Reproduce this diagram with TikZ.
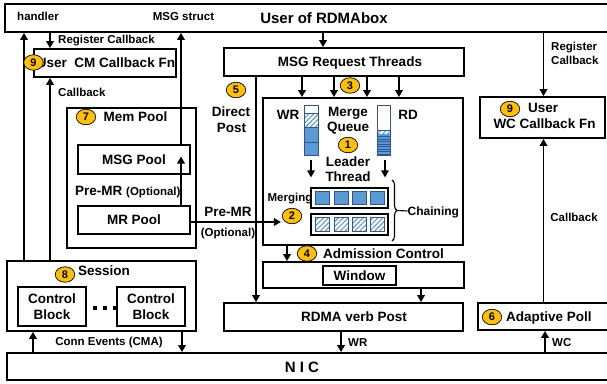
\documentclass[tikz,border=0pt]{standalone}
\usepackage{fontspec}
\setmainfont{Liberation Sans}
\usetikzlibrary{arrows.meta,shapes.geometric,patterns.meta,decorations.pathreplacing,calc}
\definecolor{numfill}{HTML}{FFC000}
\definecolor{qblue}{HTML}{5B9BD5}
\definecolor{qedge}{HTML}{2F5597}
\definecolor{hatch}{HTML}{5B9BD5}
\begin{document}
\begin{tikzpicture}[x=1pt,y=-1pt,
  box/.style={draw, line width=1.8pt, rectangle, inner sep=0pt},
  arr/.style={line width=1.8pt, -{Triangle[length=7pt,width=7.5pt]}},
  lab/.style={font=\bfseries\fontsize{11.5}{13}\selectfont, inner sep=0pt, text height=8.2pt, text depth=0pt},
  big/.style={font=\bfseries\fontsize{13.5}{16}\selectfont, inner sep=0pt, text height=9.7pt, text depth=0pt},
  huge/.style={font=\bfseries\fontsize{15}{17}\selectfont, inner sep=0pt, text height=10.8pt, text depth=0pt},
  num/.style={ellipse, draw=black, line width=0.7pt, fill=numfill, inner sep=0pt,
    minimum width=19.5pt, minimum height=15.5pt, font=\bfseries\fontsize{11}{11}\selectfont},
  hatched/.style={pattern={Lines[angle=45,distance=3.5pt,line width=1.1pt]}, pattern color=hatch},
  qbox/.style={draw=qedge, line width=0.8pt, rectangle, inner sep=0pt}
]
\useasboundingbox (0,0) rectangle (607,383);
\clip (0,0) rectangle (607,383);

% x positions of vertical connectors
\coordinate (xh) at (24,0);
\coordinate (xcb) at (50,0);
\coordinate (xms) at (181,0);
\coordinate (xmr) at (323,0);
\coordinate (xdp) at (256,0);
\coordinate (xa1) at (302,0);
\coordinate (xa2) at (334,0);
\coordinate (xa3) at (367,0);
\coordinate (xa4) at (399,0);
\coordinate (xac) at (287,0);
\coordinate (xwin) at (421,0);
\coordinate (xwr) at (341,0);
\coordinate (xwc) at (545,0);
\coordinate (xw) at (543.5,0);
\coordinate (xce1) at (33,0);
\coordinate (xce2) at (182,0);

% boxes
\node[box, minimum width=615pt, minimum height=28pt] (top) at (312.5,18) {};
\node[box, minimum width=142pt, minimum height=28pt] (cmcb) at (105,63) {};
\node[box, minimum width=129pt, minimum height=140pt] (mem) at (131.5,178) {};
\node[box, minimum width=112pt, minimum height=29pt, big] (msgpool) at (134,159.5) {MSG Pool};
\node[box, minimum width=112pt, minimum height=28pt, big] (mrpool) at (134,220) {MR Pool};
\node[box, minimum width=189pt, minimum height=70pt] (session) at (101.5,296) {};
\node[box, minimum width=68pt, minimum height=39pt, font=\bfseries\fontsize{13.5}{16}\selectfont, align=center] (cb1) at (52,306.5) {Control\\Block};
\node[box, minimum width=68pt, minimum height=39pt, font=\bfseries\fontsize{13.5}{16}\selectfont, align=center] (cb2) at (151,306.5) {Control\\Block};
\node[box, minimum width=240pt, minimum height=28pt] (msgreq) at (344,62) {};
\node[box, minimum width=200pt, minimum height=147pt] (mq) at (363,171.5) {};
\node[box, minimum width=201pt, minimum height=26pt] (adm) at (363.5,275) {};
\node[box, line width=1.3pt, minimum width=73pt, minimum height=19pt, big] (win) at (359.5,275.5) {Window};
\node[box, minimum width=239pt, minimum height=28pt] (rdma) at (343.5,317) {};
\node[box, minimum width=613pt, minimum height=27pt] (nic) at (313.5,366.5) {};
\node[box, minimum width=125pt, minimum height=41pt] (wccb) at (542.5,117.5) {};
\node[box, minimum width=142pt, minimum height=27pt] (apoll) at (549,316.5) {};

% dots between control blocks
\fill (93,306) rectangle (97,310);
\fill (103,306) rectangle (107,310);
\fill (113,306) rectangle (117,310);

% queues
\fill[qblue] (304,127) rectangle (318,155);
\fill[hatched] (304,113) rectangle (318,127);
\draw[qedge, line width=0.8pt] (304,113)--(318,113) (304,127)--(318,127) (304,142)--(318,142);
\node[qbox, minimum width=14pt, minimum height=50pt] (wrq) at (311,130) {};
\fill[qblue] (377,134) rectangle (390,155);
\fill[hatched] (377,130) rectangle (390,134);
\draw[qedge, line width=0.7pt] (377,130)--(390,130);
\foreach \yy in {136.5,139,...,154} \draw[qedge, line width=0.7pt] (377,\yy)--(390,\yy);
\node[qbox, minimum width=13pt, minimum height=50pt] (rdq) at (383.5,130) {};

% chained rows
\node[box, line width=1.4pt, minimum width=77pt, minimum height=20pt] (row1) at (349.5,198) {};
\node[box, line width=1.4pt, minimum width=77pt, minimum height=21pt] (row2) at (349.5,224.5) {};
\foreach \xx in {322,341,359.5,377.5} {
  \draw[qedge, line width=0.6pt, fill=qblue] (\xx-7,191.3) rectangle (\xx+7,204.7);
  \draw[qedge, line width=0.6pt, hatched] (\xx-7,217.5) rectangle (\xx+7,231.5);
}
\draw[line width=1.1pt, decorate, decoration={brace, amplitude=5pt}] (392,180) -- (392,241);
\coordinate (brtip) at (397.5,210.5);
\node[lab, font=\bfseries\fontsize{12}{13}\selectfont, anchor=west] (chain) at (407.5,211) {Chaining};
\draw[line width=1.1pt] (brtip) -- (chain.west);

% texts
\node[lab] (thandler) at (38,16) {handler};
\node[lab] (tmsgs) at (183.5,16) {MSG struct};
\node[huge] (tuser) at (324,18) {User of RDMAbox};
\node[lab, anchor=west] (treg) at (58,39) {Register Callback};
\node[lab, anchor=west] (tcb) at (58,92) {Callback};
\node[big] (tcm) at (106,63) {User\ \ CM Callback Fn};
\node[big] (tmem) at (135.5,117) {Mem Pool};
\node[anchor=west, inner sep=0pt, text height=9.7pt, text depth=0pt] (tpre) at (75,191) {\bfseries\fontsize{13.5}{16}\selectfont Pre-MR {\fontsize{11.5}{13}\selectfont(Optional)}};
\node[big] (tpre2) at (228,212) {Pre-MR};
\node[lab] (topt2) at (228,232) {(Optional)};
\node[big] (tdirect) at (231,112) {Direct};
\node[big] (tpost) at (231.5,128) {Post};
\node[big] (tmsgreq) at (350,62) {MSG Request Threads};
\node[big] (twr) at (288,115) {WR};
\node[big] (trd) at (408,115) {RD};
\node[big] (tmerge) at (348,112) {Merge};
\node[big] (tqueue) at (348,127) {Queue};
\node[big] (tleader) at (348,162) {Leader};
\node[big] (tthread) at (348,177) {Thread};
\node[lab] (tmerging) at (290,197) {Merging};
\node[big, anchor=west] (tadm) at (323,253.5) {Admission Control};
\node[big] (trdma) at (354,317) {RDMA verb Post};
\node[huge] (tnic) at (302,367) {N I C};
\node[lab, anchor=west] (twr2) at (348,342) {WR};
\node[lab, anchor=west] (twc) at (552,342) {WC};
\node[big, anchor=west] (tapoll) at (506,317) {Adaptive Poll};
\node[big, anchor=west] (tuser2) at (528,108) {User};
\node[big] (twccb) at (544.5,124) {WC Callback Fn};
\node[lab] (tcb2) at (574,217) {Callback};
\node[lab, anchor=west] (treg2) at (551,46) {Register};
\node[lab, anchor=west] (treg3) at (551,60) {Callback};
\node[big, anchor=west] (tsession) at (78,271) {Session};
\node[lab] (tconn) at (109,341) {Conn Events (CMA)};

% connectors
\draw[arr] (session.north -| xh) -- (top.south -| xh);
\draw[arr] (session.north -| xcb) -- (cmcb.south -| xcb);
\draw[arr] (top.south -| xcb) -- (cmcb.north -| xcb);
\draw[arr] (mrpool.north -| xms) -- ($(msgpool.center -| xms)+(0,-3)$);
\draw[arr] (msgpool.north -| xms) -- (top.south -| xms);
\draw[arr] (top.south -| xmr) -- (msgreq.north -| xmr);
\foreach \c in {xa1,xa2,xa3,xa4} \draw[arr] (msgreq.south -| \c) -- (mq.north -| \c);
\draw[arr] (msgreq.south -| xdp) -- (rdma.north -| xdp);
\draw[arr] (mq.south -| xac) -- (adm.north -| xac);
\draw[arr] (adm.south -| xwin) -- (rdma.north -| xwin);
\draw[arr] (rdma.south -| xwr) -- (nic.north -| xwr);
\draw[arr] (nic.north -| xwc) -- (apoll.south -| xwc);
\draw[arr] (apoll.north -| xw) -- (wccb.south -| xw);
\draw[arr] (top.south -| xw) -- (wccb.north -| xw);
\draw[arr] (session.south -| xce2) -- (nic.north -| xce2);
\draw[arr] (nic.north -| xce1) -- (session.south -| xce1);
\draw[arr] ($(wrq.south)+(0,5)$) -- ($(wrq.south)+(0,22)$);
\draw[arr] ($(rdq.south)+(1.5,5)$) -- ($(rdq.south)+(1.5,22)$);

% number badges
\node[num] (n9a) at (33.5,62.5) {9};
\node[num] (n7) at (86,117) {7};
\node[num] (n5) at (236,90) {5};
\node[num] (n3) at (350,85.5) {3};
\node[num] (n1) at (348,145) {1};
\node[num] (n2) at (292,216) {2};
\node[num] (n4) at (307,253.5) {4};
\node[num] (n8) at (65,274.5) {8};
\node[num] (n6) at (492,317) {6};
\node[num] (n9b) at (510,109) {9};

\draw[arr] ($(mrpool.east)+(0,2)$) -- ($(n2.west |- mrpool.east)+(-1,2)$);
\end{tikzpicture}
\end{document}
